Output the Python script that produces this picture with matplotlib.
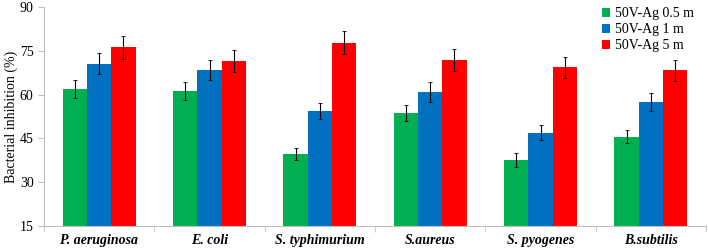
import matplotlib
matplotlib.use('Agg')
import matplotlib.pyplot as plt
import numpy as np

categories = ["P. aeruginosa", "E. coli", "S. typhimurium", "S.aureus", "S. pyogenes", "B.subtilis"]
series = ["50V-Ag 0.5 m", "50V-Ag 1 m", "50V-Ag 5 m"]
vals_05 = [61.8, 61.2, 39.6, 53.6, 37.6, 45.6]
vals_1 = [70.5, 68.4, 54.3, 60.9, 47.0, 57.4]
vals_5 = [76.2, 71.5, 77.8, 71.8, 69.3, 68.3]
err_05 = [3.1, 3.1, 2.0, 2.8, 2.3, 2.3]
err_1 = [3.6, 3.3, 2.7, 3.3, 2.5, 3.0]
err_5 = [3.9, 3.7, 4.0, 3.8, 3.6, 3.5]
colors = ["#00B050", "#0070C0", "#FF0000"]

plt.rcParams['font.family'] = ['Liberation Serif', 'DejaVu Serif']

fig = plt.figure(figsize=(7.08, 2.5), dpi=100)
ax = fig.add_axes([44 / 708, 24 / 250, 662 / 708, 219 / 250])

x = np.arange(len(categories))
w = 0.22
for i, (v, e) in enumerate(zip([vals_05, vals_1, vals_5], [err_05, err_1, err_5])):
    ax.bar(x + (i - 1) * w, v, w, color=colors[i], label=series[i],
           yerr=e, error_kw=dict(ecolor='black', elinewidth=0.8, capsize=1.5, capthick=0.6))

ax.set_xlim(-0.5, len(categories) - 0.5)
ax.set_ylim(15, 90)
ax.set_yticks(range(15, 91, 15))
ax.set_xticks(x)
ax.set_xticklabels(categories, fontstyle='italic', fontweight='bold', fontsize=10)
ax.set_xticks(np.arange(-0.5, len(categories), 1), minor=True)
ax.tick_params(axis='x', which='major', length=0, pad=6)
ax.tick_params(axis='x', which='minor', length=4, color='#BFBFBF')
ax.tick_params(axis='y', length=4, color='#BFBFBF', labelsize=10)
ax.set_ylabel("Bacterial inhibition (%)", fontsize=10, labelpad=1)

for s in ['top', 'right']:
    ax.spines[s].set_visible(False)
for s in ['left', 'bottom']:
    ax.spines[s].set_color('#BFBFBF')

ax.legend(loc='upper right', bbox_to_anchor=(1.0, 1.055), frameon=False, fontsize=10,
          handlelength=0.6, handleheight=0.6, handletextpad=0.3, labelspacing=0.2)

fig.savefig('out.png', dpi=100)
